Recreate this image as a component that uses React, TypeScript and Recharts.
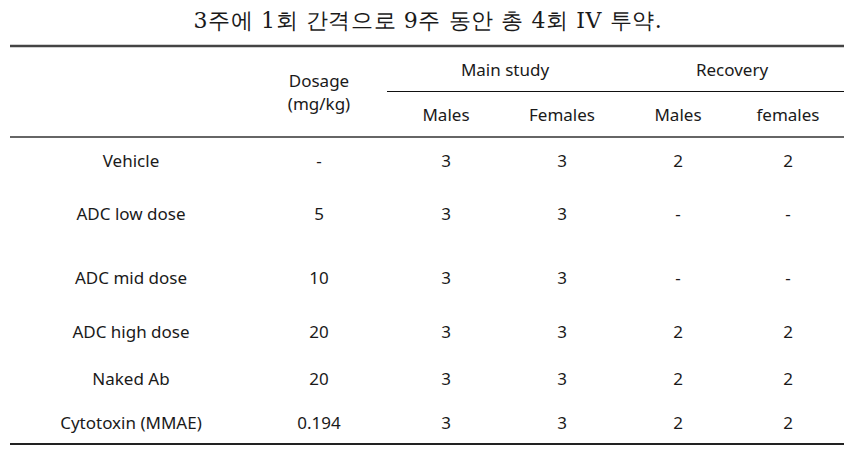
import React from "react";
import { ScatterChart, Scatter, XAxis, YAxis, ReferenceLine } from "recharts";

const title = "3주에 1회 간격으로 9주 동안 총 4회 IV 투약.";
const groupHeaders = ["Main study", "Recovery"];
const subHeaders = ["Males", "Females", "Males", "females"];
const groups = ["Vehicle", "ADC low dose", "ADC mid dose", "ADC high dose", "Naked Ab", "Cytotoxin (MMAE)"];
const dosage = ["-", "5", "10", "20", "20", "0.194"];
const mainMales = ["3", "3", "3", "3", "3", "3"];
const mainFemales = ["3", "3", "3", "3", "3", "3"];
const recMales = ["2", "-", "-", "2", "2", "2"];
const recFemales = ["2", "-", "-", "2", "2", "2"];

// layout (pixel space of the chart)
const W = 859;
const H = 457;
const colX = [131, 319, 446, 562, 678, 788];
const groupX = [505, 732];
const rowY = [160, 213, 277, 331, 378, 422];

type Cell = { x: number; y: number; text: string; kind: string };

const cells: Cell[] = [];
cells.push({ x: 428, y: 20, text: title, kind: "title" });
cells.push({ x: colX[1], y: 80, text: "Dosage", kind: "body" });
cells.push({ x: colX[1], y: 103, text: "(mg/kg)", kind: "body" });
groupHeaders.forEach((g, i) => cells.push({ x: groupX[i], y: 69, text: g, kind: "body" }));
subHeaders.forEach((s, i) => cells.push({ x: colX[i + 2], y: 114, text: s, kind: "body" }));
const cols = [groups, dosage, mainMales, mainFemales, recMales, recFemales];
groups.forEach((_, r) => {
  cols.forEach((col, c) => {
    cells.push({ x: colX[c], y: rowY[r], text: col[r], kind: "body" });
  });
});

const CellText = (props: any) => {
  const { cx, cy, payload } = props;
  const isTitle = payload.kind === "title";
  return (
    <text
      x={cx}
      y={cy}
      textAnchor="middle"
      dominantBaseline="central"
      fontFamily={isTitle ? "'DejaVu Serif', 'Liberation Serif', serif" : "'Noto Sans', 'Noto Sans CJK KR', sans-serif"}
      fontSize={isTitle ? 22 : 17}
      letterSpacing={isTitle ? 0.6 : 0}
      fill="#1a1a1a"
    >
      {payload.text}
    </text>
  );
};

export default function App() {
  return (
    <div style={{ margin: -8, width: W, height: H, background: "#fff" }}>
      <ScatterChart width={W} height={H} margin={{ top: 0, right: 0, bottom: 0, left: 0 }}>
        <XAxis type="number" dataKey="x" domain={[0, W]} hide allowDataOverflow />
        <YAxis type="number" dataKey="y" domain={[0, H]} reversed hide allowDataOverflow />
        <ReferenceLine segment={[{ x: 10, y: 46 }, { x: 844, y: 46 }]} stroke="#444" strokeWidth={2.5} ifOverflow="visible" />
        <ReferenceLine segment={[{ x: 387, y: 91.5 }, { x: 844, y: 91.5 }]} stroke="#111" strokeWidth={1} ifOverflow="visible" />
        <ReferenceLine segment={[{ x: 10, y: 137 }, { x: 844, y: 137 }]} stroke="#666" strokeWidth={2} ifOverflow="visible" />
        <ReferenceLine segment={[{ x: 10, y: 444 }, { x: 844, y: 444 }]} stroke="#222" strokeWidth={2} ifOverflow="visible" />
        <Scatter data={cells} shape={<CellText />} isAnimationActive={false} />
      </ScatterChart>
    </div>
  );
}
